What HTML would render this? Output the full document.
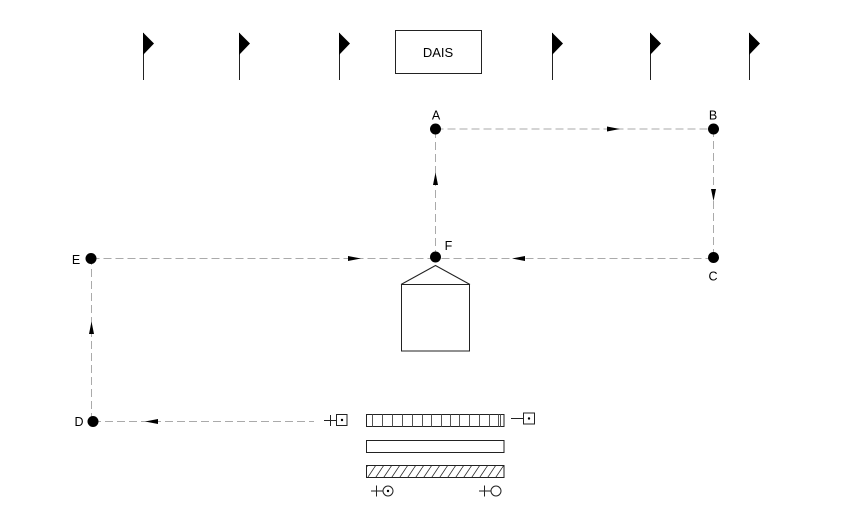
<!DOCTYPE html>
<html><head><meta charset="utf-8"><style>
html,body{margin:0;padding:0;background:#fff;}
svg{display:block;}
text{font-family:"Liberation Sans",Arial,sans-serif;fill:#000;}
</style></head><body>
<svg width="864" height="526" viewBox="0 0 864 526" xmlns="http://www.w3.org/2000/svg">
<defs>
<pattern id="hatch" patternUnits="userSpaceOnUse" width="8" height="12">
<line x1="-2" y1="12" x2="6" y2="0" stroke="#333" stroke-width="0.8"/>
<line x1="6" y1="12" x2="14" y2="0" stroke="#333" stroke-width="0.8"/>
</pattern>
</defs>
<!-- flags -->
<g stroke="#222" stroke-width="1">
<line x1="143.5" y1="33" x2="143.5" y2="80"/>
<line x1="239.5" y1="33" x2="239.5" y2="80"/>
<line x1="339.5" y1="33" x2="339.5" y2="80"/>
<line x1="552.5" y1="33" x2="552.5" y2="80"/>
<line x1="650.5" y1="33" x2="650.5" y2="80"/>
<line x1="749.5" y1="33" x2="749.5" y2="80"/>
</g>
<g fill="#000">
<polygon points="143,32.5 154,43.5 143,55"/>
<polygon points="239,32.5 250,43.5 239,55"/>
<polygon points="339,32.5 350,43.5 339,55"/>
<polygon points="552,32.5 563,43.5 552,55"/>
<polygon points="650,32.5 661,43.5 650,55"/>
<polygon points="749,32.5 760,43.5 749,55"/>
</g>
<!-- DAIS -->
<rect x="395.5" y="30.5" width="86" height="43" fill="none" stroke="#222" stroke-width="1"/>
<text x="438" y="57" font-size="13" text-anchor="middle">DAIS</text>

<!-- dashed connectors -->
<g stroke="#aaa" stroke-width="1" stroke-dasharray="8,4" fill="none">
<line x1="435.5" y1="129" x2="713.5" y2="129"/>
<line x1="713.5" y1="129" x2="713.5" y2="258"/>
<line x1="713.5" y1="258.5" x2="435.5" y2="258.5"/>
<line x1="91.5" y1="258.5" x2="435.5" y2="258.5"/>
<line x1="435.5" y1="258" x2="435.5" y2="129"/>
<line x1="91.5" y1="421" x2="91.5" y2="258"/>
<line x1="93" y1="421.5" x2="314" y2="421.5"/>
</g>
<!-- arrowheads -->
<g fill="#000">
<polygon points="620,129 607,126.5 607,131.5"/>
<polygon points="713.5,201 711,189 716,189"/>
<polygon points="512,258.5 525,256 525,261"/>
<polygon points="361,258.5 348,256 348,261"/>
<polygon points="435.5,172.5 433,185 438,185"/>
<polygon points="91.5,321.5 89,334 94,334"/>
<polygon points="145,421.5 158,419 158,424"/>
</g>
<!-- nodes -->
<g fill="#000">
<circle cx="435.5" cy="129" r="5.5"/>
<circle cx="713.5" cy="129" r="5.5"/>
<circle cx="713.5" cy="257.5" r="5.5"/>
<circle cx="435.5" cy="257" r="5.5"/>
<circle cx="91" cy="258.5" r="5.5"/>
<circle cx="93" cy="421.5" r="5.5"/>
</g>
<text x="436" y="119.5" font-size="12.5" text-anchor="middle">A</text>
<text x="713" y="119.5" font-size="12.5" text-anchor="middle">B</text>
<text x="713" y="280.5" font-size="12.5" text-anchor="middle">C</text>
<text x="79" y="426" font-size="12.5" text-anchor="middle">D</text>
<text x="76" y="264" font-size="12.5" text-anchor="middle">E</text>
<text x="448.5" y="250" font-size="12.5" text-anchor="middle">F</text>

<!-- house -->
<polyline points="401,284.5 435.5,265.5 470,284.5" fill="none" stroke="#222" stroke-width="1"/>
<rect x="401.5" y="284.5" width="68" height="66.5" fill="none" stroke="#222" stroke-width="1"/>

<!-- left box symbol -->
<g stroke="#222" stroke-width="1" fill="none">
<line x1="324" y1="420.5" x2="336" y2="420.5"/>
<line x1="330.5" y1="415" x2="330.5" y2="426"/>
<rect x="336.5" y="414.5" width="10.5" height="11"/>
<line x1="511" y1="418.5" x2="523" y2="418.5"/>
<rect x="523.5" y="413" width="11" height="11"/>
</g>
<circle cx="342" cy="420" r="1.2" fill="#000"/>
<circle cx="529" cy="418.5" r="1.2" fill="#000"/>

<!-- bars -->
<g stroke="#222" stroke-width="1">
<rect x="366.5" y="414.5" width="137.5" height="12" fill="none"/>
<g stroke="#555">
<line x1="372.5" y1="414.5" x2="372.5" y2="426.5"/>
<line x1="382.5" y1="414.5" x2="382.5" y2="426.5"/>
<line x1="392.5" y1="414.5" x2="392.5" y2="426.5"/>
<line x1="402.5" y1="414.5" x2="402.5" y2="426.5"/>
<line x1="412.5" y1="414.5" x2="412.5" y2="426.5"/>
<line x1="422.5" y1="414.5" x2="422.5" y2="426.5"/>
<line x1="431.5" y1="414.5" x2="431.5" y2="426.5"/>
<line x1="441.5" y1="414.5" x2="441.5" y2="426.5"/>
<line x1="450.5" y1="414.5" x2="450.5" y2="426.5"/>
<line x1="459.5" y1="414.5" x2="459.5" y2="426.5"/>
<line x1="469.5" y1="414.5" x2="469.5" y2="426.5"/>
<line x1="479.5" y1="414.5" x2="479.5" y2="426.5"/>
<line x1="489.5" y1="414.5" x2="489.5" y2="426.5"/>
<line x1="498.5" y1="414.5" x2="498.5" y2="426.5"/>
<line x1="500.5" y1="414.5" x2="500.5" y2="426.5"/>
</g>
<rect x="366.5" y="440.5" width="137.5" height="12" fill="none"/>
<rect x="366.5" y="465.5" width="137.5" height="12" fill="url(#hatch)"/>
</g>

<!-- bottom circle symbols -->
<g stroke="#222" stroke-width="1" fill="none">
<line x1="371" y1="491" x2="383" y2="491"/>
<line x1="376.5" y1="485.5" x2="376.5" y2="496.5"/>
<circle cx="388" cy="491" r="5"/>
<line x1="479" y1="491" x2="491" y2="491"/>
<line x1="484.5" y1="485.5" x2="484.5" y2="496.5"/>
<circle cx="496" cy="491" r="5"/>
</g>
<circle cx="388" cy="491" r="1.2" fill="#000"/>
</svg>
</body></html>
